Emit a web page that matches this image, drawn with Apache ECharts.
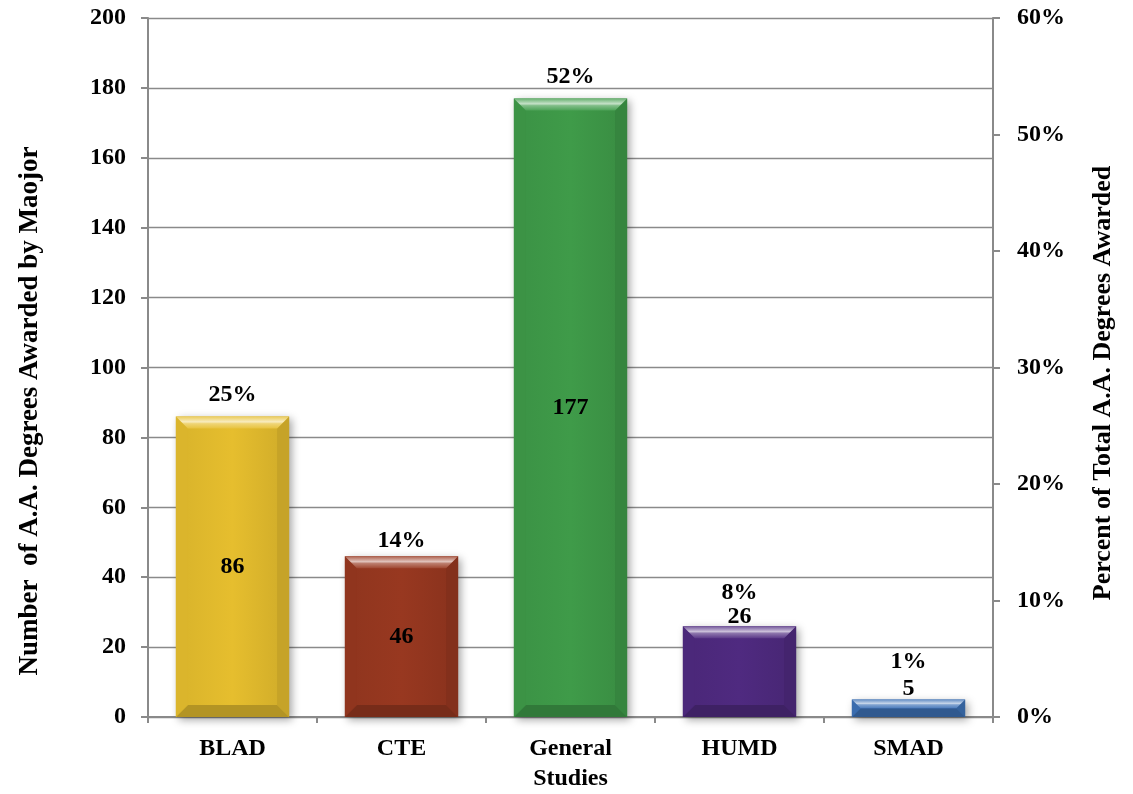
<!DOCTYPE html>
<html>
<head>
<meta charset="utf-8">
<script src="https://cdn.jsdelivr.net/npm/echarts@6/dist/echarts.min.js"></script>
<style>
  html, body { margin: 0; padding: 0; background: #ffffff; }
  #chart { width: 1133px; height: 794px; }
</style>
</head>
<body>
<div id="chart"></div>
<script>
// ---- data ----
const categories = ['BLAD', 'CTE', 'General\nStudies', 'HUMD', 'SMAD'];
const counts = [86, 46, 177, 26, 5];
const percents = [25, 14, 52, 8, 1];
const leftAxisTicks = { min: 0, max: 200, interval: 20 };
const rightAxisTicks = { min: 0, max: 60, interval: 10 };
const leftTitle = 'Number  of A.A. Degrees Awarded by Maojor';
const rightTitle = 'Percent of Total A.A. Degrees Awarded';

// ---- styles ----
const palette = ['#E6BE2E', '#983820', '#3F9B49', '#4F2A80', '#3D72B7'];
const countLabelInside = [true, true, true, false, false];
const countLabelDist = [0, 0, 0, -3, -1];
const pctLabelDist = [10, 3, 10, 21, 26];
const FONT = '"Liberation Serif", "DejaVu Serif", serif';
const axisGrey = '#8a8a8a';

function shade(hex, amt) {
  const n = parseInt(hex.slice(1), 16);
  let r = (n >> 16) & 255, g = (n >> 8) & 255, b = n & 255;
  const t = amt > 0 ? 255 : 0, p = Math.abs(amt);
  r = Math.round(r + (t - r) * p);
  g = Math.round(g + (t - g) * p);
  b = Math.round(b + (t - b) * p);
  return 'rgb(' + r + ',' + g + ',' + b + ')';
}

function renderBevelBar(params, api) {
  const i = params.dataIndex;
  const top = api.coord([api.value(0), api.value(1)]);
  const base = api.coord([api.value(0), 0]);
  const w = api.size([1, 0])[0] * 0.67;
  const x0 = top[0] - w / 2, x1 = top[0] + w / 2;
  const y0 = top[1], y1 = base[1];
  const h = y1 - y0;
  const b = Math.min(12, h / 2);
  const c = palette[i];
  const lin = (x, y, x2, y2, stops) => new echarts.graphic.LinearGradient(x, y, x2, y2, stops);
  return {
    type: 'group',
    children: [
      { type: 'rect', shape: { x: x0, y: y0, width: w, height: h },
        style: { fill: lin(0, 0, 1, 0, [
          { offset: 0, color: shade(c, -0.06) },
          { offset: 0.5, color: c },
          { offset: 1, color: shade(c, -0.1) }]),
          shadowBlur: 8, shadowColor: 'rgba(0,0,0,0.35)', shadowOffsetX: 3, shadowOffsetY: 3 } },
      { type: 'polygon', shape: { points: [[x0, y1], [x1, y1], [x1 - b, y1 - b], [x0 + b, y1 - b]] },
        style: { fill: shade(c, -0.22) } },
      { type: 'polygon', shape: { points: [[x0, y0], [x0 + b, y0 + b], [x0 + b, y1 - b], [x0, y1]] },
        style: { fill: shade(c, -0.05) } },
      { type: 'polygon', shape: { points: [[x1, y0], [x1 - b, y0 + b], [x1 - b, y1 - b], [x1, y1]] },
        style: { fill: shade(c, -0.14) } },
      { type: 'polygon', shape: { points: [[x0, y0], [x1, y0], [x1 - b, y0 + b], [x0 + b, y0 + b]] },
        style: { fill: lin(0, 0, 0, 1, [
          { offset: 0, color: shade(c, 0.2) },
          { offset: 0.45, color: shade(c, 0.7) },
          { offset: 0.6, color: shade(c, 0.35) },
          { offset: 1, color: shade(c, 0.08) }]) } }
    ]
  };
}

const chart = echarts.init(document.getElementById('chart'), null, { renderer: 'canvas' });

const labelText = { fontFamily: FONT, fontWeight: 'bold', fontSize: 24, color: '#000' };

const option = {
  backgroundColor: '#ffffff',
  animation: false,
  grid: { left: 148, right: 140, top: 18, bottom: 71 },
  xAxis: {
    type: 'category',
    data: categories,
    axisLine: { lineStyle: { color: axisGrey, width: 2 } },
    axisTick: { show: true, length: 6, lineStyle: { color: axisGrey, width: 2 } },
    axisLabel: Object.assign({ margin: 17, lineHeight: 30, interval: 0 }, labelText)
  },
  yAxis: [
    {
      type: 'value', min: leftAxisTicks.min, max: leftAxisTicks.max, interval: leftAxisTicks.interval,
      axisLine: { show: true, lineStyle: { color: axisGrey, width: 2 } },
      axisTick: { show: true, length: 7, lineStyle: { color: axisGrey, width: 2 } },
      splitLine: { show: true, lineStyle: { color: axisGrey, width: 1.3 } },
      axisLabel: Object.assign({ margin: 22 }, labelText)
    },
    {
      type: 'value', min: rightAxisTicks.min, max: rightAxisTicks.max, interval: rightAxisTicks.interval,
      position: 'right',
      axisLine: { show: true, lineStyle: { color: axisGrey, width: 2 } },
      axisTick: { show: true, length: 7, lineStyle: { color: axisGrey, width: 2 } },
      splitLine: { show: false },
      axisLabel: Object.assign({ margin: 24, formatter: '{value}%' }, labelText)
    }
  ],
  graphic: [
    { type: 'text', x: 30, y: 411, rotation: Math.PI / 2,
      style: { text: leftTitle, font: 'bold 27px ' + FONT, fill: '#000', align: 'center', verticalAlign: 'middle' } },
    { type: 'text', x: 1103, y: 383, rotation: Math.PI / 2,
      style: { text: rightTitle, font: 'bold 26px ' + FONT, fill: '#000', align: 'center', verticalAlign: 'middle' } }
  ],
  series: [
    {
      type: 'custom',
      renderItem: renderBevelBar,
      data: counts.map((v, i) => [i, v]),
      encode: { x: 0, y: 1 },
      z: 1,
      silent: true
    },
    {
      type: 'bar',
      data: counts.map((v, i) => ({
        value: v,
        label: countLabelInside[i]
          ? { position: 'inside' }
          : { position: 'top', distance: countLabelDist[i] }
      })),
      barWidth: '67%',
      barGap: '-100%',
      itemStyle: { color: 'rgba(0,0,0,0)' },
      label: Object.assign({ show: true, formatter: p => String(counts[p.dataIndex]) }, labelText),
      z: 3,
      silent: true
    },
    {
      type: 'bar',
      data: counts.map((v, i) => ({ value: v, label: { distance: pctLabelDist[i] } })),
      barWidth: '67%',
      barGap: '-100%',
      itemStyle: { color: 'rgba(0,0,0,0)' },
      label: Object.assign({ show: true, position: 'top', formatter: p => percents[p.dataIndex] + '%' }, labelText),
      z: 3,
      silent: true
    }
  ]
};

chart.setOption(option);
</script>
</body>
</html>
